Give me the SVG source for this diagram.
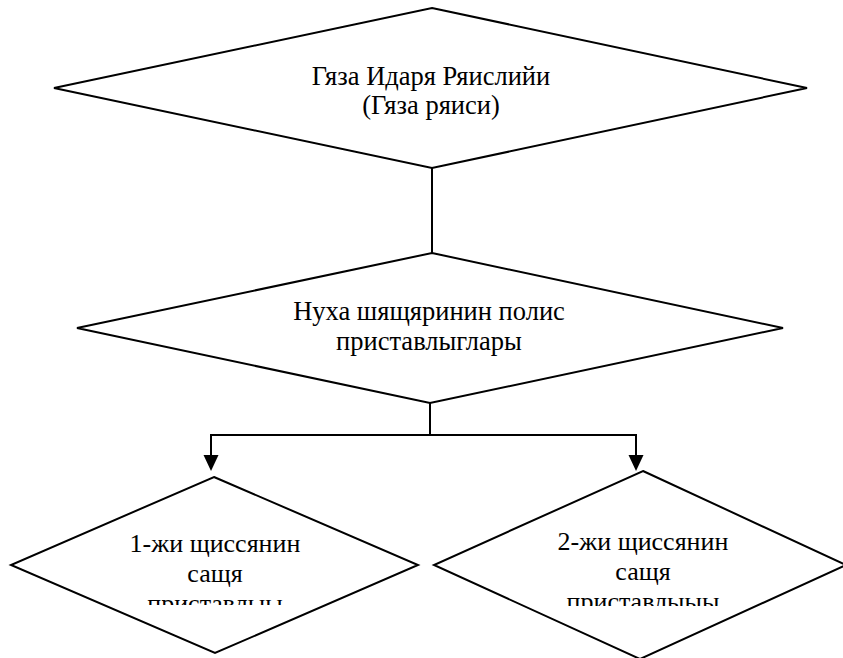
<svg xmlns="http://www.w3.org/2000/svg" width="843" height="658" viewBox="0 0 843 658">
<style>
.shape{fill:#fff;stroke:#000;stroke-width:2;stroke-linejoin:miter}
.lbl{font-family:"Liberation Serif","Times New Roman",serif;font-size:26.5px;fill:#000;text-anchor:middle}
.sm{font-size:26px}
.conn{fill:none;stroke:#000;stroke-width:2}
</style>
<defs>
<clipPath id="clipL"><rect x="0" y="0" width="843" height="605"/></clipPath>
<clipPath id="clipR"><rect x="0" y="0" width="843" height="606"/></clipPath>
</defs>
<rect width="843" height="658" fill="#fff"/>
<g id="connectors">
<line class="conn" x1="432" y1="168" x2="432" y2="253"/>
<polyline class="conn" points="430,403 430,435 211,435 211,455"/>
<polyline class="conn" points="430,435 636,435 636,455"/>
<path d="M203.5,455 L218.5,455 L211,471 z" fill="#000"/>
<path d="M628.5,455 L643.5,455 L636,471 z" fill="#000"/>
</g>
<g id="node-top">
<polygon class="shape" points="432,8 807,88 432,168 54,88"/>
<text class="lbl" x="431" y="85">Гяза Идаря Ряислийи</text>
<text class="lbl" x="431" y="114">(Гяза ряиси)</text>
</g>
<g id="node-mid">
<polygon class="shape" points="432,253 783,328 430,403 77,328"/>
<text class="lbl" x="429" y="320">Нуха шящяринин полис</text>
<text class="lbl" x="429" y="350">приставлыглары</text>
</g>
<g id="node-left">
<polygon class="shape" points="214,477 418,565 215,653 11,565"/>
<g clip-path="url(#clipL)">
<text class="lbl sm" x="215" y="552">1-жи щиссянин</text>
<text class="lbl sm" x="215" y="582">сащя</text>
<text class="lbl sm" x="215" y="612">приставлыы</text>
</g>
</g>
<g id="node-right">
<polygon class="shape" points="643,471 846,565 640,659 434,565"/>
<g clip-path="url(#clipR)">
<text class="lbl sm" x="643" y="550">2-жи щиссянин</text>
<text class="lbl sm" x="643" y="580">сащя</text>
<text class="lbl sm" x="643" y="610">приставлыыы</text>
</g>
</g>
</svg>
